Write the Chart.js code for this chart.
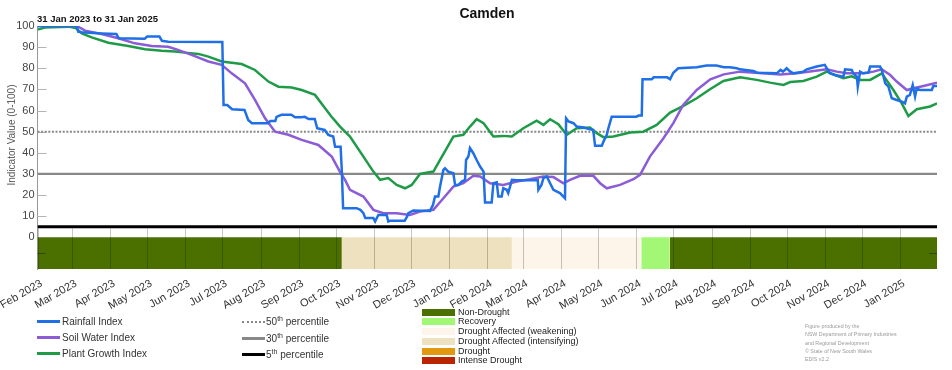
<!DOCTYPE html>
<html><head><meta charset="utf-8">
<script src="https://cdn.jsdelivr.net/npm/chart.js@4.4.0/dist/chart.umd.min.js"></script>
<style>
html,body{margin:0;padding:0;background:#fff;}
#wrap{position:relative;width:952px;height:370px;font-family:"Liberation Sans",Arial,sans-serif;overflow:hidden;}
#c{position:absolute;left:0;top:0;}
.t{position:absolute;white-space:nowrap;}
.ln{position:absolute;height:0;}
.sw{position:absolute;width:33px;height:7px;}
.sup{font-size:7px;position:relative;top:-4px;}
</style></head>
<body>
<div id="wrap">
<canvas id="c" width="952" height="370"></canvas>
<div class="t" style="left:387px;width:200px;text-align:center;top:5px;font-size:14px;font-weight:bold;color:#111;">Camden</div>
<div class="t" style="left:37px;top:13px;font-size:9.5px;font-weight:bold;color:#111;">31 Jan 2023 to 31 Jan 2025</div>
<div class="t" style="left:-44px;top:129px;width:112px;height:12px;line-height:12px;text-align:center;font-size:10px;font-weight:normal;color:#555;transform:rotate(-90deg);">Indicator Value (0-100)</div>

<div class="ln" style="left:37px;width:23px;top:320px;border-top:3px solid #1f6fe6;"></div>
<div class="t" style="left:62px;top:316px;font-size:10px;color:#333;">Rainfall Index</div>
<div class="ln" style="left:37px;width:23px;top:336px;border-top:3px solid #8b5cd6;"></div>
<div class="t" style="left:62px;top:332px;font-size:10px;color:#333;">Soil Water Index</div>
<div class="ln" style="left:37px;width:23px;top:352px;border-top:3px solid #1f9b48;"></div>
<div class="t" style="left:62px;top:348px;font-size:10px;color:#333;">Plant Growth Index</div>

<div class="ln" style="left:242px;width:23px;top:321px;border-top:2px dotted #888;"></div>
<div class="t" style="left:266px;top:316px;font-size:10px;color:#333;">50<span class="sup">th</span> percentile</div>
<div class="ln" style="left:242px;width:23px;top:337px;border-top:3px solid #888;"></div>
<div class="t" style="left:266px;top:333px;font-size:10px;color:#333;">30<span class="sup">th</span> percentile</div>
<div class="ln" style="left:242px;width:23px;top:353px;border-top:3px solid #000;"></div>
<div class="t" style="left:266px;top:349px;font-size:10px;color:#333;">5<span class="sup">th</span> percentile</div>

<div id="dleg"></div>

<div class="t" style="left:805px;top:322px;font-size:5.3px;line-height:8.3px;color:#999;">Figure produced by the<br>NSW Department of Primary Industries<br>and Regional Development<br>© State of New South Wales<br>EDIS v2.2</div>
</div>
<script>
// ---- x axis: days since 1 Feb 2023 ----
const monthTickDays = [0,28,59,89,120,150,181,212,242,273,303,334,365,394,425,455,486,516,547,578,608,639,669,700];
const monthTickLabels = ["Feb 2023","Mar 2023","Apr 2023","May 2023","Jun 2023","Jul 2023","Aug 2023","Sep 2023","Oct 2023","Nov 2023","Dec 2023","Jan 2024","Feb 2024","Mar 2024","Apr 2024","May 2024","Jun 2024","Jul 2024","Aug 2024","Sep 2024","Oct 2024","Nov 2024","Dec 2024","Jan 2025"];
const yTickValues = [0,10,20,30,40,50,60,70,80,90,100];

// ---- Rainfall Index ----
const rainDays = [0,32,33,36,52,64,66,87,89,99,101,106,150,151,154,158,168,171,174,187,189,193,194,198,206,209,214,217,220,225,227,233,236,240,241.5,246,247,248,259,262,264.5,266,272.6,274,276.6,283.4,284.7,286,298,300,301,305,318.6,321,322.6,325.3,326.7,329.4,330.7,333.5,337.5,338.9,341.6,344.3,347,347.8,349.7,351,353.7,356.4,359.2,362,363.2,368.6,370,372.7,374,376.7,378,380.8,382,383.5,385,389,406,406.5,409,410.6,413.3,416,418.7,424,426.8,428.1,429,431,435,437.6,443,451,452.5,458,459.3,462,463.3,466,486,488,490.4,491,498.5,500,511,513.4,516,520,535,543,551,557,562,567.5,570,581,584,600,603,605,608,611,613.5,621.6,624.3,632.4,639,640.5,643,647,654,655.4,660.8,662,665,665.7,667.6,670,674.4,675.7,683.8,685.2,688,690.6,693.3,697.3,701.4,704,705.5,708,710.3,712.2,713.6,716.3,725.8,727,730];
const rainValues = [100,100,97.3,97,96.5,96.2,94.2,94,95,95,93,92.5,92.4,62.6,62.6,60.6,60.3,55.5,54,54,55,55,57,58,58,56.8,56.8,57,56,56,51.6,50.8,48.5,47.7,42.9,42.9,31,13.8,13.8,13,11.4,9.1,9.1,7.5,10.6,10.6,7.5,7.8,7.8,9.9,11.4,12.7,12.5,15.4,19.3,19.3,24,31.9,32.7,31,30.3,24.8,24.8,26.4,27.2,36.6,38.2,42.2,39.8,36.6,33.5,31.1,16.5,16.5,25.6,26,19.3,19.3,23.2,22.5,20.9,24,27.2,27,27,22.5,24.8,28,28.8,25.6,22.5,20.9,19.3,18.5,56.3,54.8,54,52.4,52,50.8,43.3,43.3,45.3,48.5,51.6,57.1,57.1,57.6,57.6,74.8,74.8,75.7,75.7,74.8,77.9,80,80.5,81.3,81.3,80.5,80.5,80,79.5,78.7,77.9,77.6,79.2,78.4,80,78.4,77.6,78.4,79.5,80.8,81.6,80,77.6,76.8,76,79.5,79.2,77.6,76,71.3,78.4,77.6,77.9,80.8,80.8,79.2,72.9,71.3,65.8,65,64.2,63.4,66.6,67.4,72.1,66.6,70.5,69.7,69.7,71.6,71.6];

// ---- Soil Water Index ----
const soilDays = [0,32,38.6,52,65.6,79,92.7,106,114,125,138.7,149.5,157.6,168.4,176.5,184.7,192.8,203.6,214.4,227.9,238.8,245.5,249.6,253.6,264.5,272.6,280.7,291.5,302.3,310.4,321.3,329.4,337.5,345.6,353.7,359.2,367.3,378.1,388.9,399.7,410.6,418.7,426.8,432.2,440.3,451.1,456.6,462,472.8,483.6,489,497,508,516,524,535,546,557,570,589,603,616,630,640.5,648.6,656.8,670.3,678.4,685.2,692,697.3,705.5,711,719,730];
const soilValues = [100,100,97.8,96.2,94.2,91.8,90.5,90.2,88.7,86.3,83.2,81.6,77.6,72.9,65,56.3,50,48.5,46.1,43.7,38.2,31,27.2,22.5,19.3,13,11.4,11.4,10.6,12.2,13,18.5,24,25.6,29.1,28.8,25.6,24.8,26.4,27.5,28.8,28.5,25.6,27.2,29.1,29.1,25.6,23.2,24.8,27.5,29.6,38.2,46.9,54,62.6,69.7,74.8,77.1,78.4,77.6,77.1,77.6,78.7,79.5,78.4,77.6,77.6,78.4,79.5,76.8,73.7,69.7,70.5,71.6,73.1];

// ---- Plant Growth Index ----
const growthDays = [0,6,25,31,36,44,57.5,73.7,87.3,100.8,111.6,119.7,130.5,138.7,149.5,165.7,176.5,187.4,195.5,206.3,214.4,225.2,233.4,238,245.5,253.6,264.5,272.6,278,284.7,291.5,298.3,303.7,310.4,321.3,326.7,337.5,345.6,351,356.4,362,370,378,384.9,394.3,405.1,410.6,416,422.7,429.5,437.6,448.4,453.9,459.3,467.4,480.9,491.7,502.5,513.4,524.2,535,545.8,556.7,570.2,583.7,594.5,605.4,610.8,621.6,632.4,640.5,647.3,654.1,660.8,667.6,675.7,685.2,694.6,701.4,706.8,713.6,724.4,730];
const growthValues = [98.3,99.3,99.7,99,96.5,94.6,92.1,90.5,89,88.3,87.9,87.4,86.8,85.5,83.2,82,79.2,73.7,71.3,70.9,69.7,67.4,61.1,57.5,52.4,47.7,38.2,31.1,27.2,28,24.8,23.2,24.8,30,31.1,36.6,47.7,48.5,52.4,55.9,54,47.7,48,47.7,51.6,55.2,53.2,55.9,53.5,48.5,51.6,52,49.3,47.4,47.7,49.6,50,53.2,59,62.2,65.8,70.1,74,75.7,74.5,73.2,72.1,73.5,74,76,78.4,76.8,75.3,76.2,74.5,74.5,77.6,69.7,63.4,57.4,60.6,61.9,63.4];

// ---- Percentiles ----
const percentileNames = ["50th percentile","30th percentile","5th percentile"];
const percentileLevels = [50,30,5];

// ---- Drought categories ----
const droughtStart = [0,247,385,490,513];
const droughtEnd = [247,385,490,513,730];
const droughtCategory = ["Non-Drought","Drought Affected (intensifying)","Drought Affected (weakening)","Recovery","Non-Drought"];
const categoryNames = ["Non-Drought","Recovery","Drought Affected (weakening)","Drought Affected (intensifying)","Drought","Intense Drought"];
const categoryColors = ["#4c7000","#a2f874","#fdf5e9","#ede1bf","#e2980f","#ba2400"];

const X_MAX = 730, Y_MIN = -15, Y_MAX = 100;

// drought legend (HTML)
(function(){
  const el = document.getElementById('dleg');
  let h = '';
  categoryNames.forEach((n,i)=>{
    const top = 308.5 + i*9.75;
    h += `<div class="sw" style="left:422px;top:${top}px;background:${categoryColors[i]}"></div>`;
    h += `<div class="t" style="left:458px;top:${top-2}px;font-size:9px;line-height:10px;color:#222;">${n}</div>`;
  });
  el.innerHTML = h;
})();

const zip = (xs, ys) => xs.map((x,i)=>({x, y: ys[i]}));
const datasets = [
  {label:"Rainfall Index", data: zip(rainDays, rainValues), borderColor:"#1f6fe6", borderWidth:2.5},
  {label:"Soil Water Index", data: zip(soilDays, soilValues), borderColor:"#8b5cd6", borderWidth:2.5},
  {label:"Plant Growth Index", data: zip(growthDays, growthValues), borderColor:"#1f9b48", borderWidth:2.5},
];
const pStyles = [
  {borderColor:"#888", borderWidth:2, borderDash:[2,1.6]},
  {borderColor:"#888", borderWidth:2.2},
  {borderColor:"#000", borderWidth:3}
];
percentileLevels.forEach((lv,i)=>{
  datasets.push(Object.assign({label: percentileNames[i], data:[{x:0,y:lv},{x:X_MAX,y:lv}]}, pStyles[i]));
});
droughtStart.forEach((s,i)=>{
  const col = categoryColors[categoryNames.indexOf(droughtCategory[i])];
  datasets.push({label: droughtCategory[i], data:[{x:s,y:0},{x:droughtEnd[i],y:0}], borderWidth:0, borderColor:col, backgroundColor:col, fill:{value:Y_MIN}});
});
datasets.forEach(d=>{ d.pointRadius = 0; d.tension = 0; if(d.fill===undefined) d.fill=false; });

const extras = {
  id:'extras',
  beforeDatasetsDraw(chart){
    const {ctx, chartArea:a, scales:{y}} = chart;
    ctx.save();
    ctx.strokeStyle = '#b5b5b5'; ctx.lineWidth = 1;
    yTickValues.forEach(v=>{
      if (v<=0) return;
      const py = Math.round(y.getPixelForValue(v))+0.5;
      ctx.beginPath(); ctx.moveTo(a.left, py); ctx.lineTo(a.left+9, py); ctx.stroke();
    });
    ctx.restore();
  },
  afterDatasetsDraw(chart){
    const {ctx, chartArea:a, scales:{x,y}} = chart;
    ctx.save();
    ctx.strokeStyle = 'rgba(0,0,0,0.22)'; ctx.lineWidth = 1;
    const top = y.getPixelForValue(5)+1.5;
    monthTickDays.forEach(d=>{
      const px = Math.round(x.getPixelForValue(d))+0.5;
      ctx.beginPath(); ctx.moveTo(px, top); ctx.lineTo(px, a.bottom); ctx.stroke();
    });
    ctx.strokeStyle = 'rgba(0,0,0,0.35)';
    const py = Math.round(y.getPixelForValue(-7.5))+0.5;
    ctx.beginPath(); ctx.moveTo(a.left, py); ctx.lineTo(a.left+8, py); ctx.stroke();
    ctx.beginPath(); ctx.moveTo(a.right-8, py); ctx.lineTo(a.right, py); ctx.stroke();
    ctx.restore();
  }
};

Chart.defaults.font.family = '"Liberation Sans", Arial, sans-serif';
new Chart(document.getElementById('c'), {
  type:'line',
  data:{datasets},
  plugins:[extras],
  options:{
    responsive:false, animation:false, devicePixelRatio:1,
    layout:{padding:{left:0,right:15,top:26,bottom:61}},
    plugins:{legend:{display:false}, tooltip:{enabled:false}, title:{display:false}},
    scales:{
      x:{type:'linear', min:0, max:X_MAX,
        afterBuildTicks:s=>{ s.ticks = monthTickDays.map(v=>({value:v})); },
        afterFit:s=>{ s.height = 40; s.paddingLeft = 0; s.paddingRight = 0; },
        ticks:{autoSkip:false, maxRotation:30, minRotation:30, padding:0, labelOffset:4, color:'#333', font:{size:11},
          callback:(v,i)=>monthTickLabels[i]},
        grid:{display:false}, border:{display:false}},
      y:{type:'linear', min:Y_MIN, max:Y_MAX,
        afterBuildTicks:s=>{ s.ticks = yTickValues.map(v=>({value:v})); },
        afterFit:s=>{ s.width = 37.5; },
        ticks:{padding:3, color:'#444', font:{size:11}},
        grid:{display:false, drawTicks:false}, border:{display:true, color:'#999', width:1}}
    }
  }
});
</script>
</body></html>
